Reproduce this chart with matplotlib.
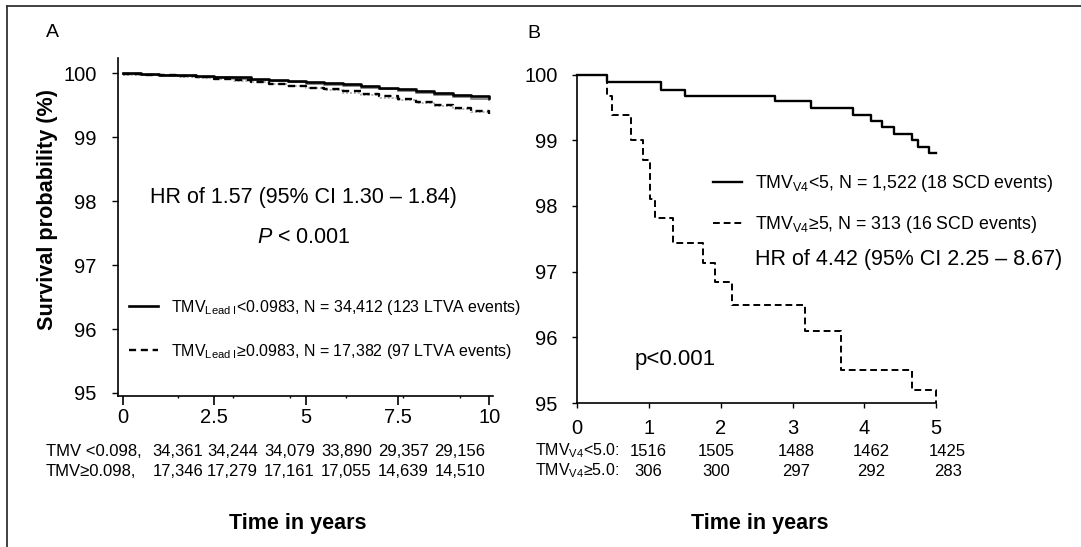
import matplotlib
matplotlib.use("Agg")
import matplotlib.pyplot as plt
from matplotlib.lines import Line2D
from matplotlib import transforms

plt.rcParams['font.family'] = ['Liberation Sans', 'DejaVu Sans']
plt.rcParams['mathtext.fontset'] = 'custom'
plt.rcParams['mathtext.rm'] = 'Liberation Sans'
plt.rcParams['mathtext.it'] = 'Liberation Sans:italic'

# ---- Panel A data ----
time_a = [0, 0.5, 1.0, 1.5, 2.0, 2.5, 3.0, 3.5, 4.0, 4.5, 5.0,
          5.5, 6.0, 6.5, 7.0, 7.5, 8.0, 8.5, 9.0, 9.5, 10.0]
low_a = [100.00, 99.99, 99.98, 99.97, 99.96, 99.95, 99.94, 99.92, 99.90, 99.89, 99.87,
         99.85, 99.83, 99.80, 99.78, 99.75, 99.72, 99.69, 99.66, 99.64, 99.62]
low_a_grey = [99.99, 99.98, 99.97, 99.96, 99.95, 99.94, 99.92, 99.90, 99.88, 99.86, 99.84,
              99.82, 99.80, 99.77, 99.75, 99.72, 99.69, 99.66, 99.63, 99.60, 99.58]
high_a = [99.99, 99.98, 99.97, 99.96, 99.94, 99.92, 99.90, 99.87, 99.84, 99.81, 99.78,
          99.75, 99.72, 99.68, 99.64, 99.60, 99.55, 99.50, 99.46, 99.41, 99.37]
high_a_grey = [99.98, 99.97, 99.96, 99.94, 99.93, 99.91, 99.89, 99.86, 99.83, 99.80, 99.77,
               99.74, 99.70, 99.66, 99.62, 99.58, 99.54, 99.49, 99.44, 99.40, 99.36]

risk_a_low = ["34,361", "34,244", "34,079", "33,890", "29,357", "29,156"]
risk_a_high = ["17,346", "17,279", "17,161", "17,055", "14,639", "14,510"]

# ---- Panel B data ----
time_b_low = [0, 0.42, 1.17, 1.50, 2.76, 3.26, 3.84, 4.09, 4.25, 4.42, 4.67, 4.75, 4.90, 5.00]
surv_b_low = [100, 99.88, 99.77, 99.68, 99.59, 99.49, 99.39, 99.30, 99.20, 99.09,
              99.00, 98.90, 98.80, 98.80]
time_b_high = [0, 0.41, 0.49, 0.75, 0.91, 1.01, 1.08, 1.33, 1.75, 1.92, 2.16, 3.17,
               3.67, 4.66, 5.00]
surv_b_high = [100, 99.68, 99.38, 99.00, 98.70, 98.11, 97.81, 97.43, 97.13, 96.84,
               96.50, 96.10, 95.51, 95.20, 95.00]

risk_b_low = ["1516", "1505", "1488", "1462", "1425"]
risk_b_high = ["306", "300", "297", "292", "283"]

W, H = 1081, 547


def fx(x):
    return x / W


def fy(y):
    return 1 - y / H


fig = plt.figure(figsize=(W / 100, H / 100), dpi=100)

# frame (top and left edges only are visible)
fig.add_artist(Line2D([fx(7), 1], [fy(5.7), fy(5.7)], color='#333333', lw=1.3,
                      transform=fig.transFigure))
fig.add_artist(Line2D([fx(7.3), fx(7.3)], [fy(5.7), 0], color='#333333', lw=1.3,
                      transform=fig.transFigure))

dash = (0, (3, 2))

# ================= Panel A =================
axA = fig.add_axes([fx(118), fy(395.5), (493 - 118) / W, (395.5 - 57.5) / H])
axA.plot(time_a, low_a_grey, color='#8c8c8c', lw=1.4, drawstyle='steps-post')
axA.plot(time_a, high_a_grey, color='#b0b0b0', lw=1.4, ls=(0, (1, 1)),
         drawstyle='steps-post')
axA.plot(time_a, low_a, color='black', lw=1.9, drawstyle='steps-post',
         label='TMV$_{\\mathrm{Lead\\ I}}$<0.0983, N = 34,412 (123 LTVA events)')
axA.plot(time_a, high_a, color='black', lw=1.7, ls=dash, drawstyle='steps-post',
         label='TMV$_{\\mathrm{Lead\\ I}}$≥0.0983, N = 17,382 (97 LTVA events)')
axA.set_xlim(-0.13, 10.1)
axA.set_ylim(94.96, 100.25)
axA.set_xticks([0, 2.5, 5, 7.5, 10])
axA.set_xticklabels(['0', '2.5', '5', '7.5', '10'])
risk_x_a = [1.5, 3.0, 4.55, 6.1, 7.65, 9.2]
axA.set_xticks(risk_x_a, minor=True)
axA.set_yticks([95, 96, 97, 98, 99, 100])
axA.tick_params(axis='y', length=4.3, width=1, pad=11, labelsize=14.5)
axA.tick_params(axis='x', which='major', length=6.2, width=1.2, pad=3, labelsize=14.5)
axA.tick_params(axis='x', which='minor', length=1.5, width=1)
for s in ['top', 'right']:
    axA.spines[s].set_visible(False)
for s in ['left', 'bottom']:
    axA.spines[s].set_linewidth(1.2)

axA.legend(loc='upper left', bbox_to_anchor=(fx(129), fy(298)),
           bbox_transform=fig.transFigure, frameon=False, fontsize=11.5,
           handlelength=1.8, handletextpad=0.85, labelspacing=1.55,
           borderpad=0, borderaxespad=0)

fig.text(fx(303), fy(198), 'HR of 1.57 (95% CI 1.30 – 1.84)', ha='center', va='center',
         fontsize=15.5)
fig.text(fx(304), fy(237), '$P$ < 0.001', ha='center', va='center', fontsize=15.5)

# risk table A
tr_a = transforms.blended_transform_factory(axA.transData, fig.transFigure)
fig.text(fx(46), fy(452), 'TMV <0.098,', ha='left', va='center', fontsize=12)
fig.text(fx(46), fy(472), 'TMV≥0.098,', ha='left', va='center', fontsize=12)
for xv, n1, n2 in zip(risk_x_a, risk_a_low, risk_a_high):
    fig.text(xv, fy(452), n1, transform=tr_a, ha='center', va='center', fontsize=12)
    fig.text(xv, fy(472), n2, transform=tr_a, ha='center', va='center', fontsize=12)

fig.text(fx(298), fy(523), 'Time in years', ha='center', va='center',
         fontsize=15.5, fontweight='bold')
fig.text(fx(48), fy(210), 'Survival probability (%)', ha='center', va='center',
         rotation=90, fontsize=15.6, fontweight='bold')
fig.text(fx(46), fy(32.5), 'A', ha='left', va='center', fontsize=14)

# ================= Panel B =================
axB = fig.add_axes([fx(577.3), fy(403.2), (936.1 - 577.3) / W, (403.2 - 74.5) / H])
axB.plot(time_b_low, surv_b_low, color='black', lw=1.7, drawstyle='steps-post',
         clip_on=False, label='TMV$_{\\mathrm{V4}}$<5, N = 1,522 (18 SCD events)')
axB.plot(time_b_high, surv_b_high, color='black', lw=1.4, ls=(0, (3.5, 2)),
         drawstyle='steps-post', clip_on=False,
         label='TMV$_{\\mathrm{V4}}$≥5, N = 313 (16 SCD events)')
axB.set_xlim(0, 5)
axB.set_ylim(95, 100)
axB.set_xticks([0, 1, 2, 3, 4, 5])
axB.set_yticks([95, 96, 97, 98, 99, 100])
axB.tick_params(axis='y', length=3.3, width=1, pad=11, labelsize=14.5)
axB.tick_params(axis='x', length=3.3, width=1, pad=8, labelsize=14.5)
for s in ['top', 'right']:
    axB.spines[s].set_visible(False)
for s in ['left', 'bottom']:
    axB.spines[s].set_linewidth(1.2)

axB.legend(loc='upper left', bbox_to_anchor=(fx(712.5), fy(173)),
           bbox_transform=fig.transFigure, frameon=False, fontsize=12.8,
           handlelength=1.66, handletextpad=0.71, labelspacing=1.15,
           borderpad=0, borderaxespad=0)

fig.text(fx(754.6), fy(259), 'HR of 4.42 (95% CI 2.25 – 8.67)', ha='left', va='center',
         fontsize=15.5)
fig.text(fx(635), fy(359), 'p<0.001', ha='left', va='center', fontsize=16)

# risk table B
risk_x_b = [0.99, 1.94, 3.05, 4.1, 5.16]
tr_b = transforms.blended_transform_factory(axB.transData, fig.transFigure)
fig.text(fx(535), fy(451), 'TMV$_{\\mathrm{V4}}$<5.0:', ha='left', va='center', fontsize=11.5)
fig.text(fx(535), fy(471), 'TMV$_{\\mathrm{V4}}$≥5.0:', ha='left', va='center', fontsize=11.5)
for xv, n1, n2 in zip(risk_x_b, risk_b_low, risk_b_high):
    fig.text(xv, fy(451), n1, transform=tr_b, ha='center', va='center', fontsize=12)
    fig.text(xv, fy(471), n2, transform=tr_b, ha='center', va='center', fontsize=12)

fig.text(fx(760), fy(523), 'Time in years', ha='center', va='center',
         fontsize=15.5, fontweight='bold')
fig.text(fx(527), fy(33), 'B', ha='left', va='center', fontsize=14)

fig.savefig('out.png', dpi=100)
